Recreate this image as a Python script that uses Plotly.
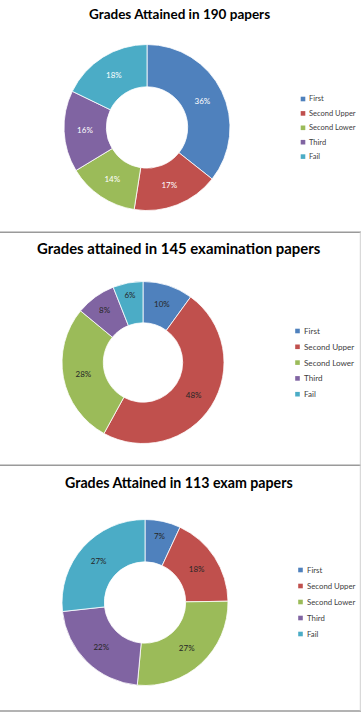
import plotly.graph_objects as go

# ---- data ----
grades = ["First", "Second Upper", "Second Lower", "Third", "Fail"]
colors = ["#4F81BD", "#C0504D", "#9BBB59", "#8064A2", "#4BACC6"]

titles = [
    "Grades Attained in 190 papers",
    "Grades attained in 145 examination papers",
    "Grades Attained in 113 exam papers",
]
pct_190 = [36, 17, 14, 16, 18]
pct_145 = [10, 48, 28, 8, 6]
pct_113 = [7, 18, 27, 22, 27]
series = [pct_190, pct_145, pct_113]

# ---- layout (pixel geometry) ----
W, H = 361, 713
def X(px):
    return px / W
def Y(py):
    return 1 - py / H

panels = [
    dict(cx=147, cy=127.5, r=83, ty=14, ts=13.5, lc="#FFFFFF", lx=303, ly=99, step=14.4, fs=7.5),
    dict(cx=143, cy=362.5, r=81, ty=248, ts=14.9, lc="#262626", lx=297.5, ly=331, step=15.8, fs=8.1),
    dict(cx=145, cy=602.5, r=83, ty=483, ts=14.2, lc="#262626", lx=300.5, ly=570, step=16, fs=7.8),
]

fig = go.Figure()
annotations = []
shapes = []

for p, title, vals in zip(panels, titles, series):
    fig.add_trace(go.Pie(
        labels=grades,
        values=vals,
        hole=0.49,
        sort=False,
        direction="clockwise",
        rotation=0,
        marker=dict(colors=colors, line=dict(color="white", width=0.8)),
        texttemplate="%{value}%",
        textposition="inside",
        insidetextorientation="horizontal",
        textfont=dict(family="Lato, sans-serif", size=8, color=p["lc"]),
        showlegend=False,
        hoverinfo="label+value",
        domain=dict(
            x=[X(p["cx"] - p["r"]), X(p["cx"] + p["r"])],
            y=[Y(p["cy"] + p["r"]), Y(p["cy"] - p["r"])],
        ),
    ))
    annotations.append(dict(
        text="<b>%s</b>" % title, x=X(179), y=Y(p["ty"]), xref="paper", yref="paper",
        xanchor="center", yanchor="middle", showarrow=False,
        font=dict(family="Lato, sans-serif", size=p["ts"], color="#000000"),
    ))
    for i, (g, c) in enumerate(zip(grades, colors)):
        yc = p["ly"] + i * p["step"]
        s = 2.3
        shapes.append(dict(
            type="rect", xref="paper", yref="paper",
            x0=X(p["lx"] - s), x1=X(p["lx"] + s), y0=Y(yc + s), y1=Y(yc - s),
            fillcolor=c, line=dict(width=0),
        ))
        annotations.append(dict(
            text=g, x=X(p["lx"] + 4), y=Y(yc), xref="paper", yref="paper",
            xanchor="left", yanchor="middle", showarrow=False,
            font=dict(family="Lato, sans-serif", size=p["fs"], color="#404040"),
        ))

for yy in [232.3, 465.3, 711]:
    shapes.append(dict(type="line", xref="paper", yref="paper",
                       x0=0, x1=1, y0=Y(yy), y1=Y(yy),
                       line=dict(color="#9A9A9A", width=1.5)))
shapes.append(dict(type="line", xref="paper", yref="paper",
                   x0=X(360.3), x1=X(360.3), y0=Y(232), y1=Y(711),
                   line=dict(color="#D0D0D0", width=1)))

fig.update_layout(
    width=W, height=H,
    margin=dict(l=0, r=0, t=0, b=0),
    paper_bgcolor="white", plot_bgcolor="white",
    annotations=annotations, shapes=shapes,
    showlegend=False,
)

fig.write_html(
    "out.html",
    config={"displayModeBar": False},
    post_script="document.body.style.margin='0';document.body.style.overflow='hidden';",
)
